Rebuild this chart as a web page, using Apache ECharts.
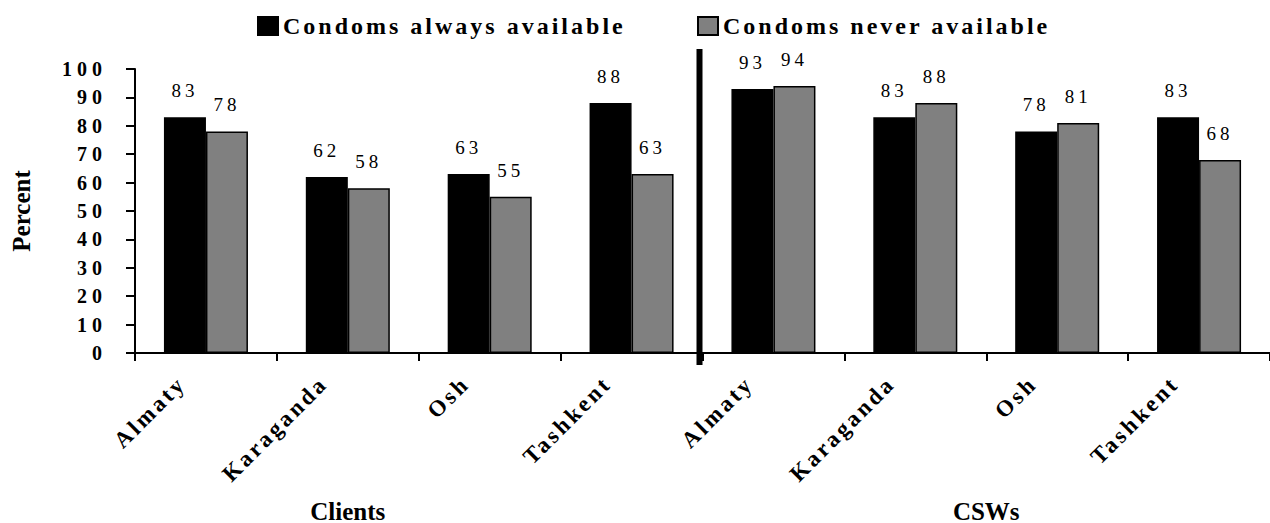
<!DOCTYPE html>
<html>
<head>
<meta charset="utf-8">
<script src="https://cdn.jsdelivr.net/npm/echarts@6/dist/echarts.min.js"></script>
<style>
html,body{margin:0;padding:0;background:#fff;}
#chart{width:1270px;height:523px;}
#chart text[style*="20px"]{letter-spacing:5px;}
#chart text[style*="19px"]{letter-spacing:4px;}
#chart text[style*="24px"]{letter-spacing:3px;}
#chart text[style*="23px"]{letter-spacing:3px;}
</style>
</head>
<body>
<div id="chart"></div>
<script>
const cities = ['Almaty', 'Karaganda', 'Osh', 'Tashkent'];
const groups = ['Clients', 'CSWs'];
const seriesNames = ['Condoms always available', 'Condoms never available'];
const alwaysClients = [83, 62, 63, 88];
const neverClients = [78, 58, 55, 63];
const alwaysCSWs = [93, 83, 78, 83];
const neverCSWs = [94, 88, 81, 68];
const yMin = 0, yMax = 100, yStep = 10;

const categories = cities.concat(cities);
const alwaysAll = alwaysClients.concat(alwaysCSWs);
const neverAll = neverClients.concat(neverCSWs);

const FONT = "'Liberation Serif', 'Times New Roman', serif";
const chart = echarts.init(document.getElementById('chart'), null, {renderer: 'svg'});

const labelCfg = {
  show: true, position: 'top', distance: 17,
  color: '#000', fontFamily: FONT, fontSize: 19, fontWeight: 'normal'
};

chart.setOption({
  animation: false,
  backgroundColor: '#fff',
  grid: {left: 135, right: -7, top: 69, bottom: 170, containLabel: false},
  legend: [
    {data: [seriesNames[0]], left: 252, top: 9, itemWidth: 20, itemHeight: 18, itemGap: 5,
     icon: 'rect', textStyle: {fontFamily: FONT, fontSize: 24, fontWeight: 'bold', color: '#000'}},
    {data: [seriesNames[1]], left: 692, top: 9, itemWidth: 20, itemHeight: 18, itemGap: 5,
     icon: 'rect', textStyle: {fontFamily: FONT, fontSize: 24, fontWeight: 'bold', color: '#000'}}
  ],
  xAxis: {
    type: 'category', data: categories, position: 'bottom',
    axisLine: {lineStyle: {color: '#000', width: 2}},
    axisTick: {show: true, alignWithLabel: false, length: 8, lineStyle: {color: '#000', width: 2}},
    axisLabel: {interval: 0, rotate: 45, margin: 3, padding: [0, 34, 0, 0],
      fontFamily: FONT, fontSize: 23, fontWeight: 'bold', color: '#000'},
    splitLine: {show: false}
  },
  yAxis: {
    type: 'value', min: yMin, max: yMax, interval: yStep,
    name: 'Percent', nameLocation: 'middle', nameRotate: 90, nameGap: 101,
    nameTextStyle: {fontFamily: FONT, fontSize: 25, fontWeight: 'bold', color: '#000'},
    axisLine: {show: true, lineStyle: {color: '#000', width: 2}},
    axisTick: {show: true, length: 9, lineStyle: {color: '#000', width: 2}},
    axisLabel: {margin: 28, fontFamily: FONT, fontSize: 20, fontWeight: 'bold', color: '#000'},
    splitLine: {show: false}
  },
  series: [
    {name: seriesNames[0], type: 'bar', data: alwaysAll, barWidth: 42, barGap: '0%',
     itemStyle: {color: '#000', borderColor: '#000', borderWidth: 1.5}, label: labelCfg},
    {name: seriesNames[1], type: 'bar', data: neverAll, barWidth: 42, barGap: '0%',
     itemStyle: {color: '#808080', borderColor: '#000', borderWidth: 1.5}, label: labelCfg}
  ]
});

// divider between the two groups and the group titles
const px = i => chart.convertToPixel({xAxisIndex: 0}, i);
const xDiv = (px(cities.length - 1) + px(cities.length)) / 2 - 3;
const yTop = chart.convertToPixel({yAxisIndex: 0}, 107);
const yBot = chart.convertToPixel({yAxisIndex: 0}, -4.2);
const yZero = chart.convertToPixel({yAxisIndex: 0}, 0);
const gx1 = px(1);
const gx2 = (px(cities.length + 1) + px(cities.length + 2)) / 2;
const titleStyle = {fill: '#000', font: "bold 25px " + FONT, textAlign: 'center', textVerticalAlign: 'middle'};
chart.setOption({
  graphic: [
    {type: 'line', shape: {x1: xDiv, y1: yTop, x2: xDiv, y2: yBot},
     style: {stroke: '#000', lineWidth: 6}, z: 100},
    {type: 'text', x: gx1, y: yZero + 158, style: Object.assign({text: groups[0]}, titleStyle)},
    {type: 'text', x: gx2, y: yZero + 158, style: Object.assign({text: groups[1]}, titleStyle)}
  ]
});
</script>
</body>
</html>
